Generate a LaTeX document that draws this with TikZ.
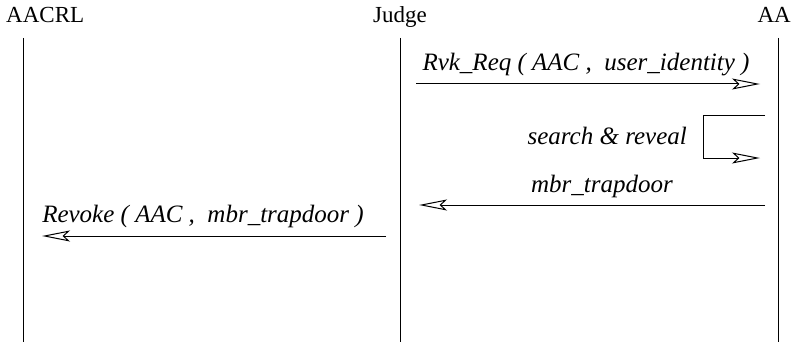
\documentclass[tikz,border=0pt]{standalone}
\usepackage{fontspec}
\setmainfont{Liberation Serif}
\usetikzlibrary{arrows.meta}
\begin{document}
\begin{tikzpicture}[x=1pt,y=-1pt,
  lifeline/.style={line width=1pt},
  msg/.style={line width=1pt,-{Stealth[open,length=28pt,width=11pt,inset=6pt]}},
  lbl/.style={font=\fontsize{25}{28}\selectfont\itshape, inner sep=0pt},
  hdr/.style={font=\fontsize{23}{26}\selectfont, inner sep=0pt}]
\useasboundingbox (0,0) rectangle (791,342);
\node[hdr,anchor=base west] (hA) at (6,23) {AACRL};
\node[hdr,anchor=base] (hJ) at (400,23) {Judge};
\node[hdr,anchor=base east] (hC) at (791,23) {AA};
\coordinate (aT) at (23,38); \coordinate (aB) at (23,342);
\coordinate (jT) at (400,38); \coordinate (jB) at (400,342);
\coordinate (cT) at (778,38); \coordinate (cB) at (778,342);
\draw[lifeline] (aT) -- (aB);
\draw[lifeline] (jT) -- (jB);
\draw[lifeline] (cT) -- (cB);
% message 1
\coordinate (m1s) at (416,84); \coordinate (m1e) at (760,84);
\draw[msg] (m1s) -- (m1e);
\node[lbl,anchor=base] (l1) at (586,71) {Rvk\_Req ( AAC ,\ \ user\_identity )};
% self loop
\coordinate (s1) at (765,115); \coordinate (s2) at (703,115);
\coordinate (s3) at (703,158); \coordinate (s4) at (760,158);
\draw[msg] (s1) -- (s2) -- (s3) -- (s4);
\node[lbl,anchor=base east] (l2) at (687,144) {search \& reveal};
% message 3
\coordinate (m3s) at (765,205); \coordinate (m3e) at (419,205);
\draw[msg] (m3s) -- (m3e);
\node[lbl,anchor=base] (l3) at (602,192) {mbr\_trapdoor};
% message 4
\coordinate (m4s) at (386,236); \coordinate (m4e) at (42,236);
\draw[msg] (m4s) -- (m4e);
\node[lbl,anchor=base] (l4) at (203,222) {Revoke ( AAC ,\ \ mbr\_trapdoor )};
\end{tikzpicture}
\end{document}
